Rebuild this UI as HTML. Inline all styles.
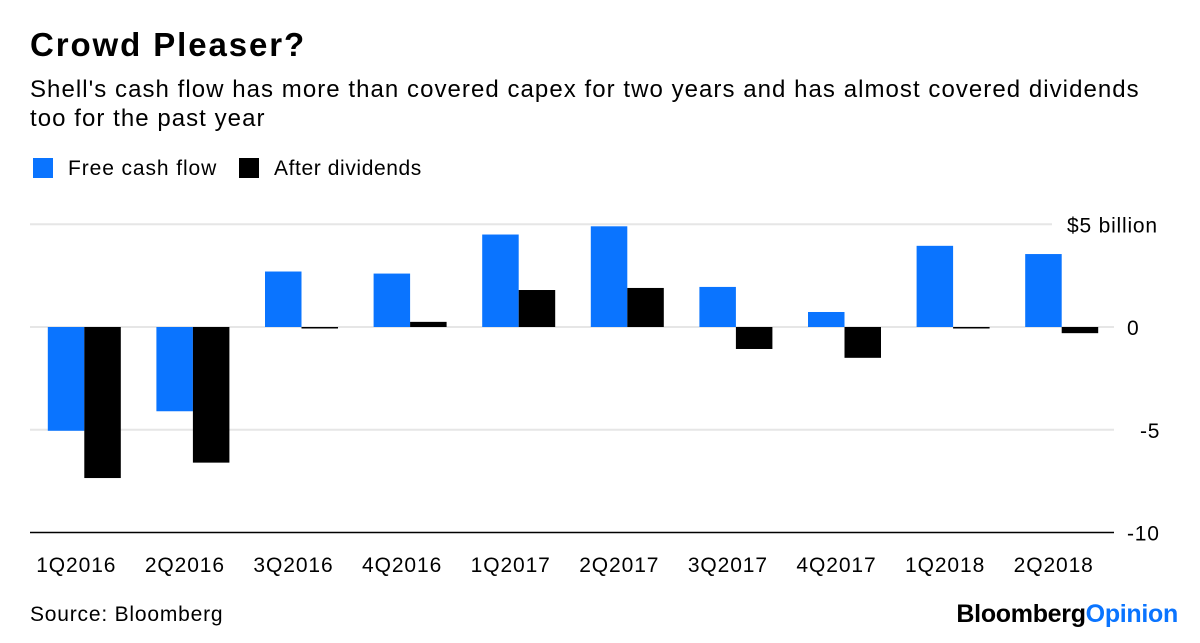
<!DOCTYPE html>
<html><head><meta charset="utf-8"><style>
body{margin:0;background:#fff;font-family:"Liberation Sans",sans-serif;}
#wrap{position:relative;width:1200px;height:643px;overflow:hidden;}
.t{position:absolute;white-space:nowrap;color:#000;}
</style></head><body>
<div id="wrap">
<div class="t" style="left:30px;top:26px;font-size:33px;font-weight:bold;letter-spacing:1.9px;">Crowd Pleaser?</div>
<div class="t" style="left:30px;top:75px;font-size:24px;line-height:29px;letter-spacing:1.05px;">Shell's cash flow has more than covered capex for two years and has almost covered dividends<br>too for the past year</div>
<div class="t" style="left:33px;top:157px;font-size:21px;letter-spacing:0.9px;"><span style="display:inline-block;width:20px;height:20px;background:#0a74ff;vertical-align:-3px;margin-right:15px"></span>Free cash flow</div>
<div class="t" style="left:239px;top:157px;font-size:21px;letter-spacing:0.6px;"><span style="display:inline-block;width:20px;height:20px;background:#000;vertical-align:-3px;margin-right:15px"></span>After dividends</div>
<svg id="chart" width="1200" height="643" style="position:absolute;left:0;top:0"></svg>
<div class="t" style="left:30px;top:603px;font-size:21px;letter-spacing:0.8px;">Source: Bloomberg</div>
<div class="t" style="right:22px;top:600px;font-size:25px;font-weight:bold;letter-spacing:-0.3px;">Bloomberg<span style="color:#0a74ff">Opinion</span></div>
</div>
<script>
const categories=["1Q2016","2Q2016","3Q2016","4Q2016","1Q2017","2Q2017","3Q2017","4Q2017","1Q2018","2Q2018"];
const freeCashFlow=[-5.05,-4.1,2.7,2.6,4.5,4.9,1.95,0.73,3.95,3.55];
const afterDividends=[-7.35,-6.6,-0.05,0.25,1.8,1.9,-1.07,-1.5,-0.05,-0.3];
const tickValues=[5,0,-5,-10];
const tickLabels=["$5 billion","0","-5","-10"];
const svg=document.getElementById('chart');
const NS='http://www.w3.org/2000/svg';
const x0=30,band=108.6,bw=36.5;
function y(v){return 327-v*20.55;}
function xc(i){return x0+band*(i+0.5);}
function mk(tag,attrs){const e=document.createElementNS(NS,tag);for(const k in attrs)e.setAttribute(k,attrs[k]);svg.appendChild(e);return e;}
tickValues.forEach((v,i)=>{
  const last=v===-10;
  const l=mk('line',{x1:30,x2:v===5?1052:1114,y1:y(v),y2:y(v),stroke:last?'#000':'#e6e6e6','stroke-width':last?1.5:2});
  
  
  const t=mk('text',{x:v===5?1067:(v===-5?1140:1127),y:y(v)+8,'font-size':21,'letter-spacing':0.8,fill:'#000'});
  t.textContent=tickLabels[i];
  
  
});
categories.forEach((c,i)=>{
  const cx=xc(i);
  [[freeCashFlow[i],cx-bw,'#0a74ff','bar-free-cash-flow'],[afterDividends[i],cx,'#000','bar-after-dividends']].forEach(([v,bx,col,nm])=>{
    let top=Math.min(y(v),y(0)),h=Math.abs(y(v)-y(0));
    if(h<1.5){h=1.5;}
    const r=mk('rect',{x:bx,y:top,width:bw,height:h,fill:col});
    
    
  });
  const t=mk('text',{x:cx-8,y:572,'font-size':21,'letter-spacing':0.9,'text-anchor':'middle',fill:'#000'});
  t.textContent=c;
  
  
});
</script>
</body></html>
